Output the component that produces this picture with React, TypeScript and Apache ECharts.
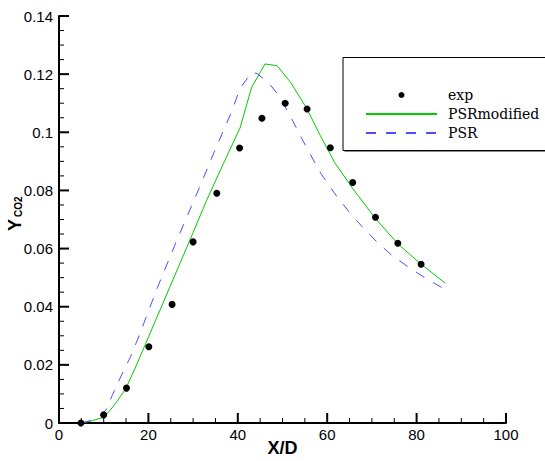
import React, { useEffect, useRef } from "react";
import * as echarts from "echarts";

// Experimental points (X/D, Y_CO2)
const expX = [4.9, 10, 15.1, 20.1, 25.3, 30, 35.3, 40.4, 45.4, 50.6, 55.5, 60.7, 65.7, 70.8, 75.8, 81];
const expY = [0, 0.0028, 0.012, 0.0262, 0.0408, 0.0623, 0.079, 0.0946, 0.1048, 0.110, 0.108, 0.0947, 0.0827, 0.0708, 0.0618, 0.0546];

// PSRmodified (green solid)
const modX = [5, 7.5, 10, 11.5, 13, 15, 17.5, 20, 22.5, 25, 27.5, 30, 33, 36.8, 40.5, 43.1, 46.1, 48.8, 51.8, 55.4, 58.4, 61.7, 65.8, 70.7, 75.9, 80.8, 86.4];
const modY = [0, 0.0008, 0.002, 0.0045, 0.0075, 0.012, 0.0205, 0.0295, 0.0385, 0.0475, 0.0565, 0.0655, 0.0765, 0.0893, 0.1015, 0.1155, 0.1235, 0.1229, 0.1172, 0.1083, 0.099, 0.0895, 0.0805, 0.0705, 0.0615, 0.0549, 0.0481];

// PSR (blue dashed)
const psrX = [5, 7, 9, 10.5, 12, 14, 16, 18, 20, 22, 24, 26, 28.5, 31.5, 34.9, 38.6, 40.5, 43.1, 44.3, 46.8, 49.4, 52.4, 54.3, 56.9, 58.6, 61.5, 64.7, 68, 71.3, 74.6, 78.3, 82.3, 86];
const psrY = [0, 0.0008, 0.0022, 0.0045, 0.0098, 0.0165, 0.0228, 0.0303, 0.0385, 0.0465, 0.054, 0.0615, 0.0705, 0.0813, 0.0939, 0.107, 0.1151, 0.1206, 0.1202, 0.1172, 0.1122, 0.1036, 0.0979, 0.0905, 0.0858, 0.0793, 0.073, 0.0672, 0.062, 0.0575, 0.0535, 0.0495, 0.0463];

const seriesNames = ["exp", "PSRmodified", "PSR"];
const xAxisRange = [0, 100, 20];
const yAxisRange = [0, 0.14, 0.02];

// Tick positions (major every 20 / 0.02, minor in between)
const xMajorTicks = [0, 20, 40, 60, 80, 100];
const xMinorTicks = [5, 10, 15, 25, 30, 35, 45, 50, 55, 65, 70, 75, 85, 90, 95];
const yMajorTicks = [0, 0.02, 0.04, 0.06, 0.08, 0.1, 0.12, 0.14];
const yMinorTicks = [0.005, 0.01, 0.015, 0.025, 0.03, 0.035, 0.045, 0.05, 0.055, 0.065, 0.07, 0.075, 0.085, 0.09, 0.095, 0.105, 0.11, 0.115, 0.125, 0.13, 0.135];

const zip = (xs: number[], ys: number[]) => xs.map((x, i) => [x, ys[i]]);

const labelFont = "'Liberation Sans', Arial, sans-serif";

const tickData = [
  ...xMajorTicks.map((v) => [v, 0, 0, 1]),
  ...xMinorTicks.map((v) => [v, 0, 0, 0]),
  ...yMajorTicks.map((v) => [0, v, 1, 1]),
  ...yMinorTicks.map((v) => [0, v, 1, 0]),
];

export default function App() {
  const ref = useRef<HTMLDivElement>(null);
  useEffect(() => {
    if (!ref.current) return;
    const chart = echarts.init(ref.current, undefined, { renderer: "svg" });
    chart.setOption({
      animation: false,
      backgroundColor: "#fff",
      grid: { left: 59, right: 39, top: 16, bottom: 38, outerBoundsMode: "none" },
      xAxis: {
        type: "value",
        min: xAxisRange[0],
        max: xAxisRange[1],
        interval: xAxisRange[2],
        axisLine: { show: true, onZero: false, lineStyle: { color: "#000", width: 2 } },
        axisTick: { show: false },
        splitLine: { show: false },
        axisLabel: { color: "#000", fontSize: 15, fontFamily: labelFont, margin: 4 },
        name: "X/D",
        nameLocation: "middle",
        nameGap: 16,
        nameMoveOverlap: false,
        nameTextStyle: { color: "#000", fontSize: 18, fontWeight: "bold", fontFamily: labelFont },
      },
      yAxis: {
        type: "value",
        min: yAxisRange[0],
        max: yAxisRange[1],
        interval: yAxisRange[2],
        axisLine: { show: true, onZero: false, lineStyle: { color: "#000", width: 2 } },
        axisTick: { show: false },
        splitLine: { show: false },
        axisLabel: {
          color: "#000",
          fontSize: 15,
          fontFamily: labelFont,
          margin: 6,
          formatter: (v: number) => String(Math.round(v * 1000) / 1000),
        },
      },
      legend: {
        orient: "vertical",
        left: 360,
        top: 82,
        itemWidth: 71,
        itemHeight: 6,
        itemGap: 3,
        z: 5,
        data: [
          { name: seriesNames[0], icon: "circle" },
          { name: seriesNames[1], itemStyle: { opacity: 0 } },
          { name: seriesNames[2], itemStyle: { opacity: 0 } },
        ],
        textStyle: {
          color: "#000",
          fontSize: 14,
          fontFamily: "'DejaVu Serif', 'Liberation Serif', serif",
          lineHeight: 16,
          padding: [0, 0, 0, 6],
        },
      },
      graphic: [
        {
          type: "rect",
          z: 1,
          shape: { x: 344.5, y: 59, width: 220, height: 93 },
          style: { fill: "#8a8a8a" },
        },
        {
          type: "rect",
          z: 2,
          shape: { x: 343, y: 57.5, width: 220, height: 93 },
          style: { fill: "#fff", stroke: "#000", lineWidth: 1 },
        },
        {
          type: "group",
          x: 14.5,
          y: 231,
          rotation: Math.PI / 2,
          children: [
            {
              type: "text",
              x: 0,
              y: 0,
              style: {
                text: "Y",
                fill: "#000",
                font: "bold 18px 'Liberation Sans', Arial, sans-serif",
                align: "left",
                verticalAlign: "middle",
              },
            },
            {
              type: "text",
              x: 14,
              y: 4,
              style: {
                text: "CO2",
                fill: "#000",
                font: "bold 10px 'Liberation Sans', Arial, sans-serif",
                align: "left",
                verticalAlign: "middle",
              },
            },
          ],
        },
      ],
      series: [
        {
          name: "ticks",
          type: "custom",
          silent: true,
          clip: false,
          z: 6,
          encode: { x: 0, y: 1 },
          data: tickData,
          renderItem: (params: any, api: any) => {
            const p = api.coord([api.value(0), api.value(1)]);
            const isY = api.value(2) === 1;
            const major = api.value(3) === 1;
            const len = major ? 10 : 5;
            return {
              type: "line",
              shape: isY
                ? { x1: p[0], y1: p[1], x2: p[0] + len, y2: p[1] }
                : { x1: p[0], y1: p[1], x2: p[0], y2: p[1] - len },
              style: { stroke: "#000", lineWidth: major ? 2 : 1 },
            };
          },
        },
        {
          name: seriesNames[0],
          type: "scatter",
          data: zip(expX, expY),
          symbol: "circle",
          symbolSize: 7,
          itemStyle: { color: "#000", opacity: 1 },
          z: 4,
        },
        {
          name: seriesNames[1],
          type: "line",
          data: zip(modX, modY),
          showSymbol: false,
          symbol: "none",
          lineStyle: { color: "#00cc00", width: 1 },
          itemStyle: { color: "#00cc00" },
          z: 3,
        },
        {
          name: seriesNames[2],
          type: "line",
          data: zip(psrX, psrY),
          showSymbol: false,
          symbol: "none",
          lineStyle: { color: "#4d4dff", width: 1, type: [10, 10] },
          itemStyle: { color: "#4d4dff" },
          z: 3,
        },
      ],
    });
    return () => chart.dispose();
  }, []);
  return (
    <div
      ref={ref}
      style={{ position: "absolute", left: 0, top: 0, width: 545, height: 461 }}
    />
  );
}
